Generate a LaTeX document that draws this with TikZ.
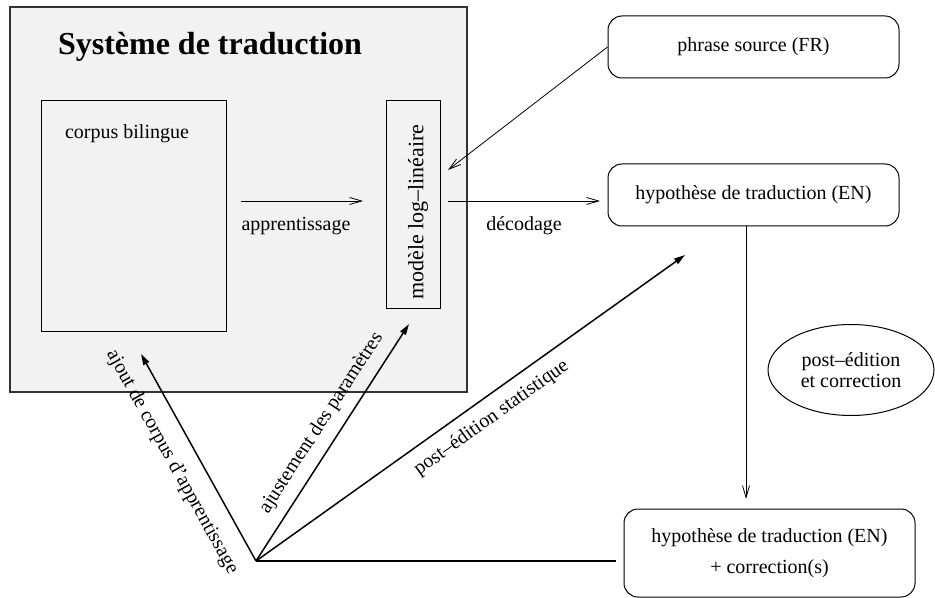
\documentclass[tikz,border=0pt]{standalone}
\usepackage{fontspec}
\setmainfont{Liberation Serif}
\usetikzlibrary{arrows.meta,shapes.geometric}
\begin{document}
\begin{tikzpicture}[x=0.5pt,y=-0.5pt,
  every node/.style={font=\fontsize{10}{12}\selectfont},
  plainbox/.style={draw=black,line width=0.5pt,inner sep=0pt},
  roundbox/.style={draw=black,line width=0.5pt,rounded corners=7pt,minimum width=145.5pt,minimum height=31pt,inner sep=0pt,align=center},
  thinarrow/.style={draw=black,line width=0.4pt,-{Straight Barb[length=6pt,width=3.5pt]}},
  boldarrow/.style={draw=black,line width=0.75pt,-{Triangle[length=5.5pt,width=3.2pt]}},
  lbl/.style={inner sep=0pt}]
\useasboundingbox (0,0) rectangle (935,598);
% system box
\node[draw=black!80, fill=black!5, line width=0.6pt, minimum width=228.5pt, minimum height=192.5pt, inner sep=0pt] (sys) at (238.5,199.5) {};
\node[lbl,font=\fontsize{16}{19}\selectfont\bfseries] (title) at (210,47) {Système de traduction};
\node[plainbox, minimum width=92.5pt, minimum height=115pt] (corpus) at (133.5,216) {};
\node[lbl] (corpustxt) at (127,134) {corpus bilingue};
\node[plainbox, minimum width=27pt, minimum height=103.5pt] (model) at (413,204.5) {};
\node[lbl, rotate=90, font=\fontsize{11}{13}\selectfont] (modeltxt) at (418,212) {modèle log–linéaire};
% right boxes
\node[roundbox] (src) at (753.5,47) {phrase source (FR)};
\node[roundbox] (hyp) at (753.5,195) {hypothèse de traduction (EN)};
\node[roundbox, minimum height=44pt] (corr) at (769.5,553) {hypothèse de traduction (EN)\\[3.5pt]+ correction(s)};
\node[draw=black, line width=0.5pt, ellipse, minimum width=83pt, minimum height=45.5pt, inner sep=0pt, align=center, font=\fontsize{10}{10.5}\selectfont] (pe) at (851,370) {post–édition\\et correction};
% coordinates
\coordinate (a1s) at (241,201);
\coordinate (a1e) at (363,201);
\coordinate (a2s) at (448,201);
\coordinate (a2e) at (600,201);
\coordinate (srcend) at (448,170);
\coordinate (vx) at (746,499);
\coordinate (O) at (256,561);
\coordinate (t1) at (141,354);
\coordinate (t2) at (409,324);
\coordinate (t3) at (685,255);
% thin arrows
\draw[thinarrow] (a1s) -- (a1e);
\node[lbl] (lapp) at (296,226) {apprentissage};
\draw[thinarrow] (a2s) -- (a2e);
\node[lbl] (ldec) at (524,226) {décodage};
\draw[thinarrow] (src.west) -- (srcend);
\draw[thinarrow] (hyp.south -| vx) -- (vx);
% bold arrows
\draw[draw=black,line width=0.75pt,shorten >=4pt] (O) -- (O -| corr.west);
\draw[boldarrow] (O) -- (t1);
\draw[boldarrow] (O) -- (t2);
\draw[boldarrow] (O) -- (t3);
\node[lbl, rotate=-61] (l1) at (172,462) {ajout de corpus d'apprentissage};
\node[lbl, rotate=57] (l2) at (321.5,423) {ajustement des paramètres};
\node[lbl, rotate=35.5] (l3) at (491.5,418) {post–édition statistique};
\end{tikzpicture}
\end{document}
